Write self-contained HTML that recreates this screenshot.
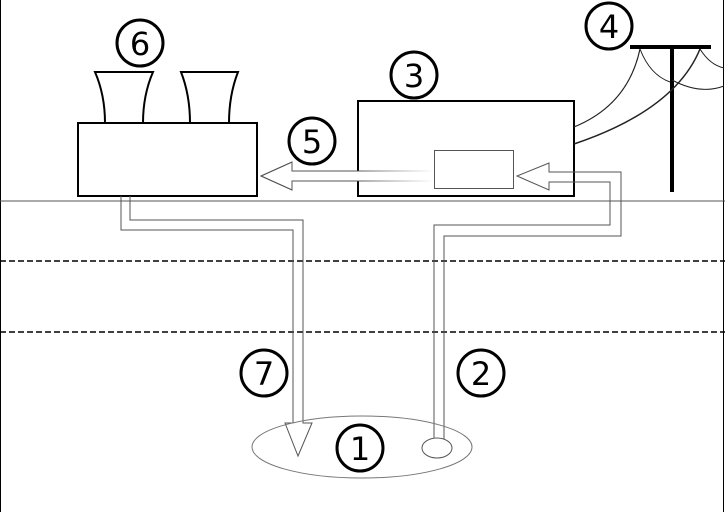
<!DOCTYPE html>
<html><head><style>body{margin:0;background:#fff}svg{display:block}</style></head><body>
<svg width="725" height="512" viewBox="0 0 725 512" xmlns="http://www.w3.org/2000/svg" font-family="DejaVu Sans, Liberation Sans, sans-serif">
<defs><linearGradient id="g" x1="0" x2="1"><stop offset="0.55" stop-color="#555"/><stop offset="1" stop-color="#555" stop-opacity="0"/></linearGradient></defs>
<rect x="0" y="0" width="725" height="512" fill="#fff"/>
<line x1="0.5" y1="0" x2="0.5" y2="512" stroke="#000"/>
<line x1="723.5" y1="0" x2="723.5" y2="512" stroke="#000"/>
<line x1="0" y1="201" x2="725" y2="201" stroke="#555"/>
<line x1="0" y1="261" x2="725" y2="261" stroke="#000" stroke-width="1.5" stroke-dasharray="6,3"/>
<line x1="0" y1="332" x2="725" y2="332" stroke="#000" stroke-width="1.5" stroke-dasharray="6,3"/>
<!-- building + towers -->
<path d="M95 72 H153 Q143 95 143 123 H105 Q105 95 95 72Z" fill="#fff" stroke="#000" stroke-width="2"/>
<path d="M181 72 H238 Q229 95 229 123 H190 Q190 95 181 72Z" fill="#fff" stroke="#000" stroke-width="2"/>
<rect x="78" y="123" width="179" height="73" fill="#fff" stroke="#000" stroke-width="2"/>
<!-- box 3 -->
<rect x="358" y="101" width="216" height="95" fill="#fff" stroke="#000" stroke-width="2"/>
<rect x="434.5" y="150.5" width="79" height="38" fill="none" stroke="#555"/>
<!-- arrow 5 -->
<path d="M434 171 H292 V162 L261 176 L292 190 V181 H434" fill="#fff" stroke="url(#g)" stroke-width="1"/>
<path d="M300 171 H292 V162 L261 176 L292 190 V181 H300" fill="none" stroke="#555"/>
<!-- pipe 7 -->
<path d="M121 196 V230 H293 V423 H285 L298 456 L312 423 H303 V220 H130 V196" fill="none" stroke="#555"/>
<!-- pipe 2 -->
<path d="M434 440 V225 H610 V182 H549 V190 L517 176 L549 163 V172 H621 V236 H444 V440" fill="none" stroke="#555"/>
<ellipse cx="362" cy="447" rx="110" ry="31" fill="none" stroke="#777"/>
<ellipse cx="437" cy="448" rx="15" ry="10" fill="#fff" stroke="#555"/>
<!-- power pole -->
<line x1="630" y1="47" x2="711" y2="47" stroke="#000" stroke-width="4"/>
<line x1="672" y1="47" x2="672" y2="192" stroke="#000" stroke-width="4"/>
<path d="M574 127 Q628 105 640 49" fill="none" stroke="#222" stroke-width="1.2"/>
<path d="M574 144 Q675 110 700 49" fill="none" stroke="#222" stroke-width="1.5"/>
<path d="M640 49 Q650 75 670 82" fill="none" stroke="#222" stroke-width="1"/>
<path d="M700 49 Q710 65 724 68" fill="none" stroke="#222" stroke-width="1"/>
<path d="M672 80 Q700 95 724 86" fill="none" stroke="#222" stroke-width="1"/>
<!-- labels -->
<g fill="#fff" stroke="#000" stroke-width="3">
<circle cx="140" cy="43" r="23"/><circle cx="414" cy="75" r="23"/><circle cx="609" cy="26" r="23"/><circle cx="312" cy="141" r="23"/><circle cx="264" cy="373" r="23"/><circle cx="481" cy="373" r="23"/><circle cx="360" cy="448" r="23"/>
</g>
<g font-size="32" text-anchor="middle" fill="#000">
<text x="140" y="55">6</text><text x="414" y="87">3</text><text x="609" y="38">4</text><text x="312" y="153">5</text><text x="264" y="385">7</text><text x="481" y="385">2</text><text x="360" y="460">1</text>
</g>
</svg>
</body></html>
